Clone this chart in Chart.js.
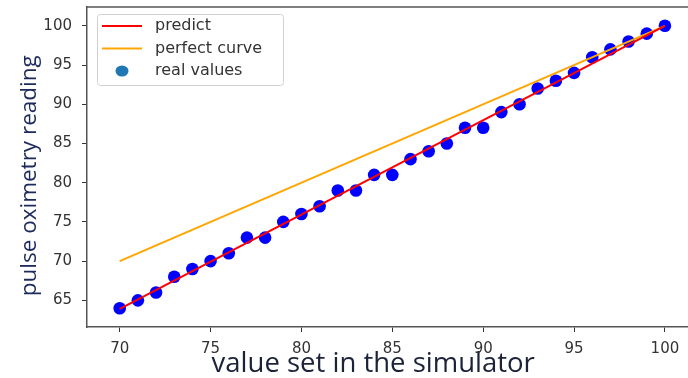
<!DOCTYPE html>
<html>
<head>
<meta charset="utf-8">
<script src="https://cdn.jsdelivr.net/npm/chart.js@4"></script>
<style>
  html, body { margin: 0; padding: 0; background: #fff; }
  #wrap { width: 688px; height: 378px; }
</style>
</head>
<body>
<div id="wrap"><canvas id="chart" width="688" height="378"></canvas></div>
<script>
// values set in the simulator vs. what the oximeter read
const setValues = [70, 71, 72, 73, 74, 75, 76, 77, 78, 79, 80, 81, 82, 83, 84, 85,
  86, 87, 88, 89, 90, 91, 92, 93, 94, 95, 96, 97, 98, 99, 100];
const readValues = [64, 65, 66, 68, 69, 70, 71, 73, 73, 75, 76, 77, 79, 79, 81, 81,
  83, 84, 85, 87, 87, 89, 90, 92, 93, 94, 96, 97, 98, 99, 100];

// fitted line and ideal line, end points
const predictX = [70, 100];
const predictY = [63.9, 100.0];
const perfectX = [70, 100];
const perfectY = [70, 100];

const xTicks = [70, 75, 80, 85, 90, 95, 100];
const yTicks = [65, 70, 75, 80, 85, 90, 95, 100];

const legendItems = [
  { label: 'predict', kind: 'line', color: '#ff0000' },
  { label: 'perfect curve', kind: 'line', color: '#ffa500' },
  { label: 'real values', kind: 'dot', color: '#1f77b4' }
];

const toPoints = (xs, ys) => xs.map((x, i) => ({ x: x, y: ys[i] }));

// top spine + matplotlib-ish legend box
const framePlugin = {
  id: 'frame',
  afterDraw(chart) {
    const ctx = chart.ctx;
    const a = chart.chartArea;
    ctx.save();
    ctx.strokeStyle = '#555';
    ctx.lineWidth = 1.5;
    ctx.beginPath();
    ctx.moveTo(a.left, a.top);
    ctx.lineTo(a.right, a.top);
    ctx.stroke();

    const bx = a.left + 10, by = a.top + 7, bw = 186, bh = 71;
    ctx.fillStyle = 'rgba(255,255,255,0.85)';
    ctx.strokeStyle = '#d0d0d0';
    ctx.lineWidth = 1;
    ctx.beginPath();
    ctx.roundRect(bx + 0.5, by + 0.5, bw, bh, 3);
    ctx.fill();
    ctx.stroke();

    ctx.font = '16px "DejaVu Sans"';
    ctx.textBaseline = 'middle';
    legendItems.forEach((it, i) => {
      const cy = by + 12 + i * 22.5;
      if (it.kind === 'line') {
        ctx.strokeStyle = it.color;
        ctx.lineWidth = 2;
        ctx.beginPath();
        ctx.moveTo(bx + 5, cy);
        ctx.lineTo(bx + 45, cy);
        ctx.stroke();
      } else {
        ctx.fillStyle = it.color;
        ctx.beginPath();
        ctx.ellipse(bx + 25, cy, 6.5, 5.5, 0, 0, Math.PI * 2);
        ctx.fill();
      }
      ctx.fillStyle = '#333';
      ctx.fillText(it.label, bx + 58, cy);
    });
    ctx.restore();
  }
};

new Chart(document.getElementById('chart'), {
  type: 'scatter',
  data: {
    datasets: [
      {
        label: 'predict',
        type: 'line',
        data: toPoints(predictX, predictY),
        borderColor: '#ff0000',
        borderWidth: 2,
        pointRadius: 0,
        order: 0
      },
      {
        label: 'perfect curve',
        type: 'line',
        data: toPoints(perfectX, perfectY),
        borderColor: '#ffa500',
        borderWidth: 2,
        pointRadius: 0,
        order: 1
      },
      {
        label: 'real values',
        data: toPoints(setValues, readValues),
        backgroundColor: '#0000ff',
        borderColor: '#0000ff',
        borderWidth: 0,
        pointRadius: 6.3,
        order: 2
      }
    ]
  },
  options: {
    responsive: false,
    animation: false,
    layout: { autoPadding: false, padding: { top: 7, right: 0, left: 0, bottom: 0 } },
    plugins: {
      legend: { display: false },
      tooltip: { enabled: false }
    },
    scales: {
      x: {
        type: 'linear',
        min: 68.2,
        max: 101.27,
        afterBuildTicks: s => { s.ticks = xTicks.map(v => ({ value: v })); },
        afterFit: s => { s.height = 51; s.paddingLeft = 0; s.paddingRight = 0; },
        grid: { drawOnChartArea: false, tickLength: 5, tickColor: '#333' },
        border: { color: '#555', width: 1.5 },
        ticks: { color: '#333', font: { family: 'DejaVu Sans', size: 15 }, padding: 8 },
        title: {
          display: true,
          text: 'value set in the simulator    ',
          color: '#1c2238',
          font: { family: 'Open Sans', size: 27.5 },
          padding: { top: -4, bottom: -3 }
        }
      },
      y: {
        type: 'linear',
        min: 61.6,
        max: 102.4,
        afterBuildTicks: s => { s.ticks = yTicks.map(v => ({ value: v })); },
        afterFit: s => { s.width = 87; s.paddingTop = 0; s.paddingBottom = 0; },
        grid: { drawOnChartArea: false, tickLength: 5, tickColor: '#333' },
        border: { color: '#555', width: 1.5 },
        ticks: { color: '#333', font: { family: 'DejaVu Sans', size: 15 }, padding: 10 },
        title: {
          display: true,
          text: 'pulse oximetry reading   ',
          color: '#1c2a5c',
          font: { family: 'Open Sans', size: 22.5 },
          padding: { top: 16, bottom: 0 }
        }
      }
    }
  },
  plugins: [framePlugin]
});
</script>
</body>
</html>
